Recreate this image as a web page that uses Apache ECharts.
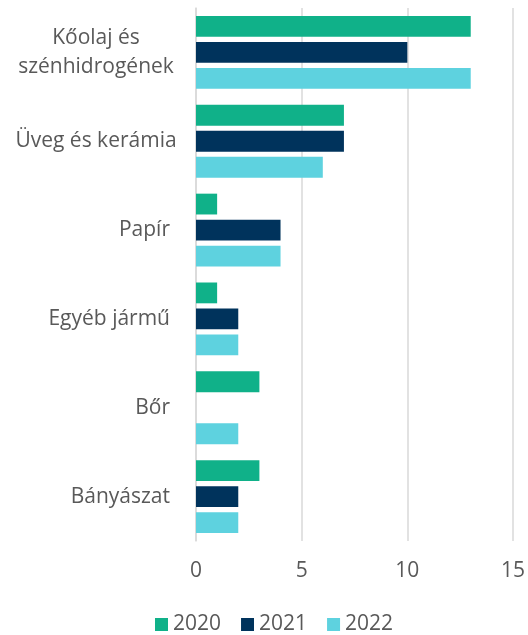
<!DOCTYPE html>
<html>
<head>
<meta charset="utf-8">
<script src="https://cdn.jsdelivr.net/npm/echarts@6/dist/echarts.min.js"></script>
<style>
  html, body { margin: 0; padding: 0; background: #ffffff; }
  #chart { width: 528px; height: 635px; }
</style>
</head>
<body>
<div id="chart"></div>
<script>
var categories = ['Kőolaj és\nszénhidrogének', 'Üveg és kerámia', 'Papír', 'Egyéb jármű', 'Bőr', 'Bányászat'];
var years = ['2020', '2021', '2022'];
var values2020 = [13, 7, 1, 1, 3, 3];
var values2021 = [10, 7, 4, 2, '-', 2];
var values2022 = [13, 6, 4, 2, 2, 2];
var xTicks = [0, 5, 10, 15];

var colors = ['#10b189', '#00335c', '#5ed2df'];
var font = 'Open Sans';
var textColor = '#595959';

var chart = echarts.init(document.getElementById('chart'), null, { renderer: 'canvas' });

var option = {
  backgroundColor: '#ffffff',
  animation: false,
  color: colors,
  grid: {
    left: 196,
    right: 15,
    top: 8,
    bottom: 94
  },
  legend: {
    top: 609,
    left: 150,
    itemWidth: 13,
    itemHeight: 13,
    itemGap: 20,
    icon: 'rect',
    textStyle: { fontFamily: font, fontSize: 21, color: textColor },
    data: years
  },
  xAxis: {
    type: 'value',
    min: xTicks[0],
    max: xTicks[xTicks.length - 1],
    interval: 5,
    axisLine: { show: false },
    axisTick: { show: false },
    axisLabel: { fontFamily: font, fontSize: 21, color: textColor, margin: 20 },
    splitLine: { lineStyle: { color: '#d9d9d9', width: 1.5 } }
  },
  yAxis: {
    type: 'category',
    inverse: true,
    data: categories,
    axisLine: { show: true, lineStyle: { color: '#d9d9d9', width: 1.5 } },
    axisTick: { show: false },
    axisLabel: {
      fontFamily: font,
      fontSize: 21,
      color: textColor,
      margin: 26,
      lineHeight: 29,
      formatter: function (v) {
        // long labels are centred in the label area, like the original
        if (v.length > 12) return '{c|' + v.split('\n').join('}\n{c|') + '}';
        return v;
      },
      rich: {
        c: { fontFamily: font, fontSize: 21, color: textColor, align: 'center', width: 148, lineHeight: 29 }
      }
    }
  },
  series: [
    { name: years[0], type: 'bar', data: values2020, barGap: '25%', barCategoryGap: '18%' },
    { name: years[1], type: 'bar', data: values2021, barGap: '25%', barCategoryGap: '18%' },
    { name: years[2], type: 'bar', data: values2022, barGap: '25%', barCategoryGap: '18%' }
  ]
};

chart.setOption(option);
</script>
</body>
</html>
